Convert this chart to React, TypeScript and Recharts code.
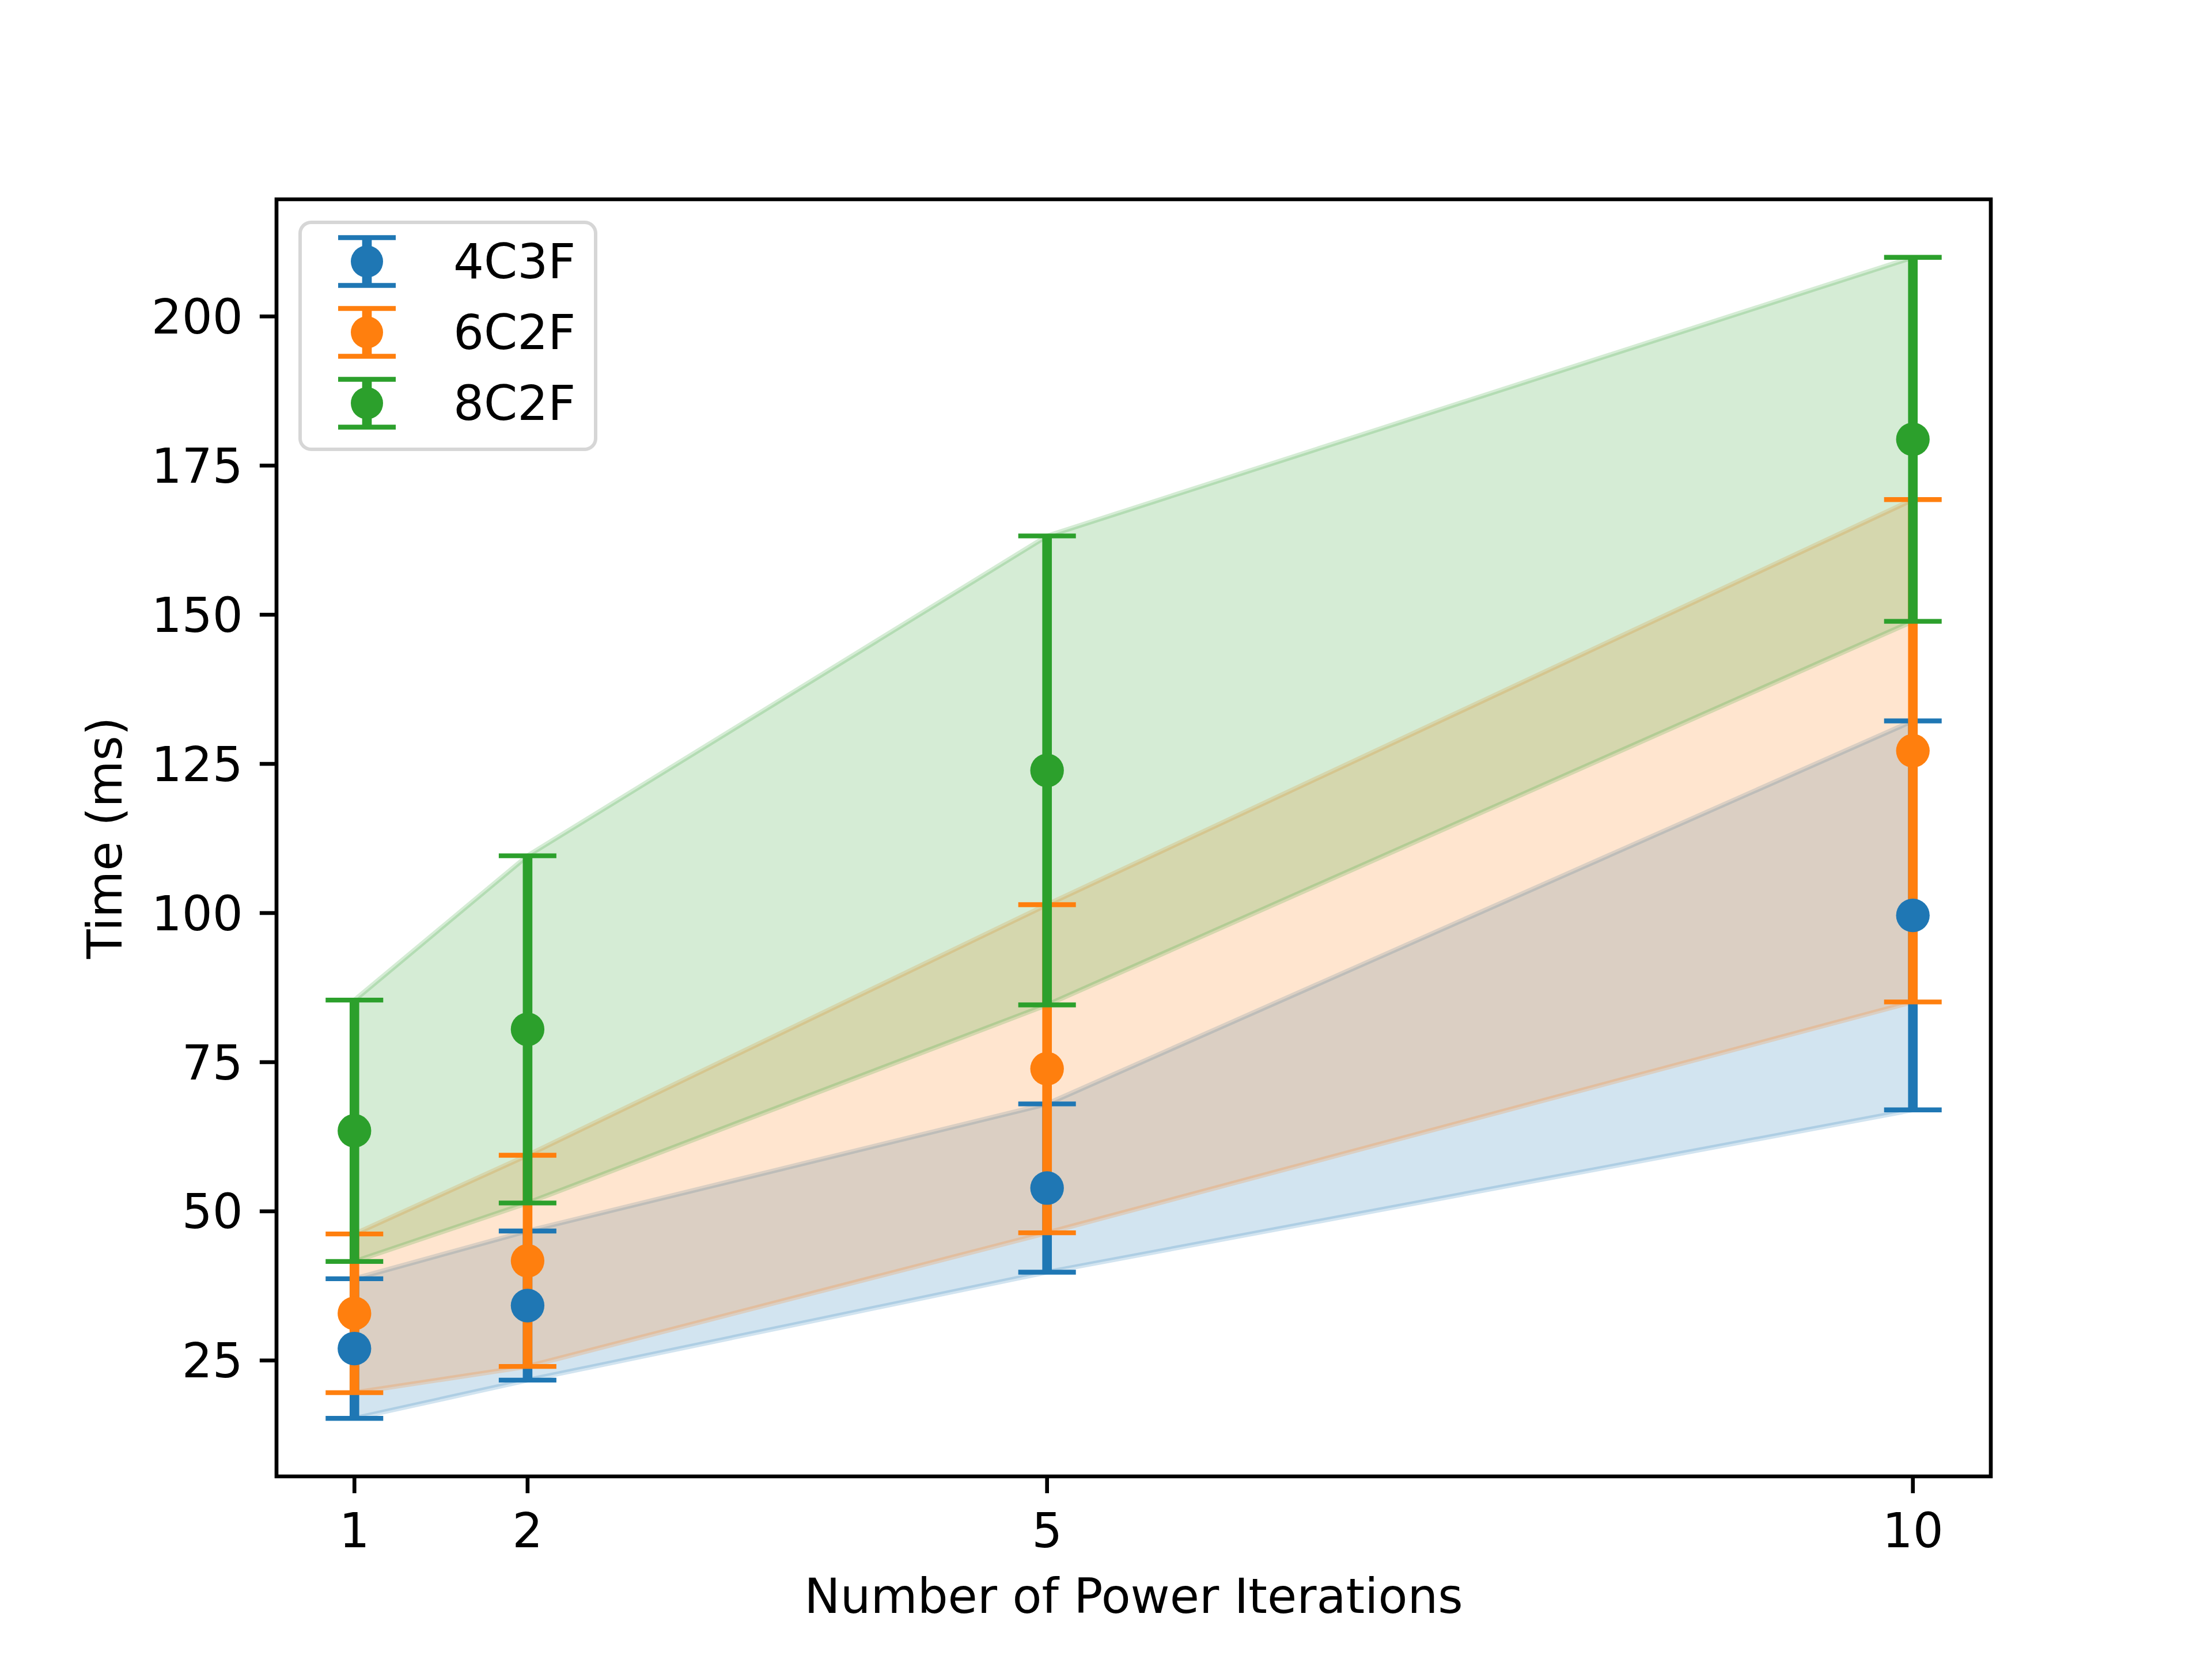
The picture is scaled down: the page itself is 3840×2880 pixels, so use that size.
import React from 'react';
import {
  ComposedChart,
  Area,
  Scatter,
  ErrorBar,
  XAxis,
  YAxis,
  ReferenceArea,
  Legend,
} from 'recharts';

// values (mean and std per series)
const iterations = [1, 2, 5, 10];
const mean4C3F = [27.0, 34.2, 53.9, 99.6];
const std4C3F = [11.7, 12.5, 14.1, 32.6];
const mean6C2F = [32.9, 41.7, 73.9, 127.2];
const std6C2F = [13.3, 17.7, 27.5, 42.1];
const mean8C2F = [63.5, 80.5, 123.9, 179.4];
const std8C2F = [21.9, 29.1, 39.3, 30.5];
const xTicks = [1, 2, 5, 10];
const yTicks = [25, 50, 75, 100, 125, 150, 175, 200];

const series = [
  { key: 's4', name: '4C3F', color: '#1f77b4', mean: mean4C3F, std: std4C3F },
  { key: 's6', name: '6C2F', color: '#ff7f0e', mean: mean6C2F, std: std6C2F },
  { key: 's8', name: '8C2F', color: '#2ca02c', mean: mean8C2F, std: std8C2F },
];

const data = iterations.map((x, i) => {
  const row: any = { x };
  series.forEach((s) => {
    row[s.key] = s.mean[i];
    row[s.key + 'Err'] = s.std[i];
    row[s.key + 'Band'] = [s.mean[i] - s.std[i], s.mean[i] + s.std[i]];
  });
  return row;
});

// autoscale like matplotlib: 5% margin on each side
const pad = (lo: number, hi: number) => [lo - (hi - lo) * 0.05, hi + (hi - lo) * 0.05];
const xDomain = pad(Math.min(...iterations), Math.max(...iterations));
const yDomain = pad(
  Math.min(...series.flatMap((s) => s.mean.map((m, i) => m - s.std[i]))),
  Math.max(...series.flatMap((s) => s.mean.map((m, i) => m + s.std[i]))),
);

const PT = 600 / 72;
const FONT = 10 * PT;
const FAMILY = '"DejaVu Sans", sans-serif';
const AXIS_W = 0.8 * PT;
const TICK_LEN = 3.5 * PT;
const BAR_W = 2 * PT;
const CAP_W = 1 * PT;
const CAP_HALF = 6 * PT;
const MARKER_R = 3.5 * PT;

const YW = 300;
const XH = 150;

const YLabel = (props: any) => {
  const vb = props.viewBox || {};
  const x = vb.x + vb.width - 269;
  const y = vb.y + vb.height / 2;
  return (
    <text
      x={x}
      y={y}
      transform={`rotate(-90 ${x} ${y})`}
      textAnchor="middle"
      fontSize={FONT}
      fontFamily={FAMILY}
      fill="#000"
    >
      Time (ms)
    </text>
  );
};

const XLabel = (props: any) => {
  const vb = props.viewBox || {};
  return (
    <text
      x={vb.x + vb.width / 2}
      y={vb.y + 237}
      textAnchor="middle"
      fontSize={FONT}
      fontFamily={FAMILY}
      fill="#000"
    >
      Number of Power Iterations
    </text>
  );
};

const LegendBox = () => (
  <div
    style={{
      width: 519,
      height: 400,
      boxSizing: 'border-box',
      border: `${AXIS_W}px solid rgba(204,204,204,0.8)`,
      borderRadius: 22,
      background: 'rgba(255,255,255,0.8)',
      paddingTop: 3.5,
      paddingLeft: 63,
      fontFamily: FAMILY,
      fontSize: FONT,
      color: '#000',
    }}
  >
    {series.map((s) => (
      <div key={s.key} style={{ display: 'flex', alignItems: 'center', height: 123 }}>
        <svg width={100} height={100} style={{ display: 'block' }}>
          <line x1={50} y1={8.5} x2={50} y2={91.5} stroke={s.color} strokeWidth={BAR_W} />
          <line x1={0} y1={8.5} x2={100} y2={8.5} stroke={s.color} strokeWidth={CAP_W} />
          <line x1={0} y1={91.5} x2={100} y2={91.5} stroke={s.color} strokeWidth={CAP_W} />
          <circle cx={50} cy={50} r={28} fill={s.color} />
        </svg>
        <span style={{ marginLeft: 100, lineHeight: 'normal' }}>{s.name}</span>
      </div>
    ))}
  </div>
);

export default function App() {
  return (
    <div style={{ position: 'absolute', left: 0, top: 0, width: 3840, height: 2880, background: '#fff' }}>
      <ComposedChart
        width={3840}
        height={2880}
        data={data}
        margin={{ top: 346, right: 384, bottom: 317 - XH, left: 480 - YW }}
      >
        <XAxis
          dataKey="x"
          type="number"
          domain={xDomain}
          allowDataOverflow
          ticks={xTicks}
          interval={0}
          height={XH}
          axisLine={false}
          tickSize={TICK_LEN}
          tickMargin={35}
          tickLine={{ stroke: '#000', strokeWidth: AXIS_W }}
          tick={{ fill: '#000', fontSize: FONT, fontFamily: FAMILY }}
          label={XLabel}
        />
        <YAxis
          type="number"
          domain={yDomain}
          allowDataOverflow
          ticks={yTicks}
          interval={0}
          width={YW}
          axisLine={false}
          tickSize={TICK_LEN}
          tickMargin={29}
          tickLine={{ stroke: '#000', strokeWidth: AXIS_W }}
          tick={{ fill: '#000', fontSize: FONT, fontFamily: FAMILY }}
          label={YLabel}
        />

        {/* shaded mean ± std bands */}
        {series.map((s) => (
          <Area
            key={s.key + 'Band'}
            type="linear"
            dataKey={s.key + 'Band'}
            fill={s.color}
            fillOpacity={0.2}
            stroke={s.color}
            strokeOpacity={0.2}
            strokeWidth={PT}
            dot={false}
            activeDot={false}
            isAnimationActive={false}
            legendType="none"
          />
        ))}

        {/* error bars: thin stroke with caps, thick stroke without */}
        {series.map((s) => (
          <Scatter
            key={s.key + 'Bars'}
            dataKey={s.key}
            shape={() => <g />}
            isAnimationActive={false}
            legendType="none"
          >
            <ErrorBar dataKey={s.key + 'Err'} direction="y" width={CAP_HALF} stroke={s.color} strokeWidth={CAP_W} />
            <ErrorBar dataKey={s.key + 'Err'} direction="y" width={0} stroke={s.color} strokeWidth={BAR_W} />
          </Scatter>
        ))}

        {/* mean markers on top */}
        {series.map((s) => (
          <Scatter
            key={s.key + 'Dots'}
            name={s.name}
            dataKey={s.key}
            fill={s.color}
            shape={(p: any) => <circle cx={p.cx} cy={p.cy} r={MARKER_R} fill={s.color} />}
            isAnimationActive={false}
          />
        ))}

        <ReferenceArea
          x1={xDomain[0]}
          x2={xDomain[1]}
          y1={yDomain[0]}
          y2={yDomain[1]}
          fill="none"
          fillOpacity={0}
          stroke="#000"
          strokeWidth={AXIS_W}
          ifOverflow="visible"
        />

        <Legend
          layout="vertical"
          align="center"
          verticalAlign="middle"
          content={LegendBox}
          wrapperStyle={{ left: 518, top: 383, width: 519, height: 400 }}
        />
      </ComposedChart>
    </div>
  );
}
